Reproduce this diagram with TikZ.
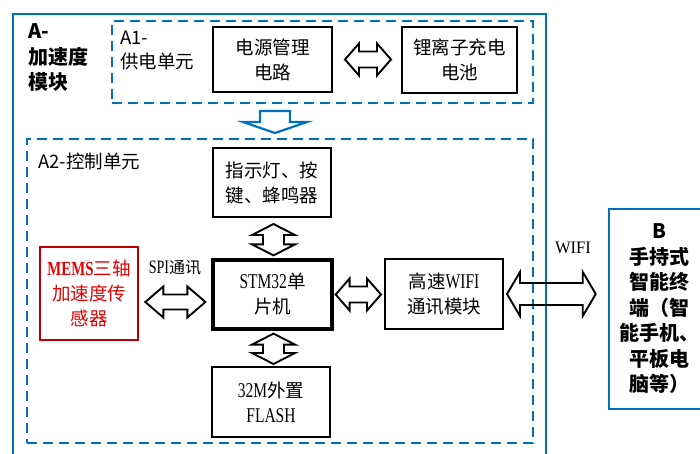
\documentclass[tikz,border=0pt]{standalone}
\usepackage{fontspec}
\setmainfont{Liberation Serif}[FakeStretch=0.74]
\newfontfamily\latw{Liberation Serif}[FakeStretch=0.95]
\newfontfamily\cjk{Noto Sans CJK SC}
\usetikzlibrary{calc}
\definecolor{ablue}{RGB}{0,112,192}
\definecolor{bred}{RGB}{192,0,0}
\definecolor{tred}{RGB}{230,0,0}
\newcommand\zh[1]{{\cjk\mdseries\fontsize{18.5}{25}\selectfont #1}}
\newcommand\zs[1]{{\cjk\fontsize{16}{18}\selectfont #1}}
\newcommand\hblock[5]{%
  \draw[blockarrow] let \p1=(#1), \p2=(#2) in
   (\x1,\y1) -- (\x1+#5,\y1+#4) -- (\x1+#5,\y1+#3) -- (\x2-#5,\y1+#3) -- (\x2-#5,\y1+#4) -- (\x2,\y1)
   -- (\x2-#5,\y1-#4) -- (\x2-#5,\y1-#3) -- (\x1+#5,\y1-#3) -- (\x1+#5,\y1-#4) -- cycle;}
\newcommand\vblock[5]{%
  \draw[blockarrow] let \p1=(#1), \p2=(#2) in
   (\x1,\y1) -- (\x1+#4,\y1-#5) -- (\x1+#3,\y1-#5) -- (\x1+#3,\y2+#5) -- (\x1+#4,\y2+#5) -- (\x1,\y2)
   -- (\x1-#4,\y2+#5) -- (\x1-#3,\y2+#5) -- (\x1-#3,\y1-#5) -- (\x1-#4,\y1-#5) -- cycle;}
\tikzset{
  blockarrow/.style={draw=black, line width=1.9pt, line join=miter},
  box/.style={draw=black, line width=2pt, rectangle, inner sep=0pt, align=center,
    font=\fontsize{21}{25}\selectfont},
  thickbox/.style={box, line width=3.2pt},
  redbox/.style={box, draw=bred, line width=2.6pt, text=tred, font=\bfseries\fontsize{20}{25}\selectfont},
  solidblue/.style={draw=ablue, line width=2.5pt},
  dashblue/.style={draw=ablue, line width=2.8pt, dash pattern=on 10pt off 6pt},
  sanslabel/.style={inner sep=0pt, align=left, font=\cjk\fontsize{18.5}{24}\selectfont},
  boldlabel/.style={inner sep=0pt, align=left, font=\cjk\bfseries\fontsize{20}{25.5}\selectfont},
  smalllabel/.style={inner sep=0pt, font=\fontsize{19}{20}\selectfont},
  wifilabel/.style={inner sep=0pt, font=\latw\fontsize{17.5}{20}\selectfont}
}
\begin{document}
\begin{tikzpicture}[x=1pt,y=-1pt]
\useasboundingbox (0,0) rectangle (700,453);
\clip (0,0) rectangle (700,453);
\fill[white] (0,0) rectangle (700,453);
% outer A box
\draw[solidblue] (13,14) rectangle (546,480);
% A1 and A2 dashed units
\node[dashblue, rectangle, minimum width=421pt, minimum height=82pt, inner sep=0pt] (A1) at (322.5,62) {};
\node[dashblue, rectangle, minimum width=506pt, minimum height=304pt, inner sep=0pt] (A2) at (280,291) {};
% labels
\node[boldlabel, anchor=west] (lA) at (28,58) {A-\\加速度\\模块};
\node[sanslabel, anchor=west] (lA1) at (120,50) {A1-\\供电单元};
\node[sanslabel, anchor=west] (lA2) at (38,161) {A2-控制单元};
% boxes
\node[box, minimum width=119pt, minimum height=65pt] (pwr) at (272.5,59.5) {\zh{电源管理}\\\zh{电路}};
\node[box, minimum width=115pt, minimum height=66pt] (bat) at (459.5,60) {\zh{锂离子充电}\\\zh{电池}};
\node[box, minimum width=118pt, minimum height=69pt] (ind) at (272,182.5) {\zh{指示灯、按}\\\zh{键、蜂鸣器}};
\node[thickbox, minimum width=119pt, minimum height=69pt] (stm) at (272.5,294.5) {STM32\zh{单}\\\zh{片机}};
\node[box, minimum width=118pt, minimum height=70pt] (flash) at (271,402) {32M\zh{外置}\\FLASH};
\node[redbox, minimum width=98pt, minimum height=93pt] (mems) at (89,293.5) {MEMS\zh{三轴}\\\zh{加速度传}\\\zh{感器}};
\node[box, minimum width=118pt, minimum height=70pt] (wifi) at (444,294) {\zh{高速}WIFI\\\zh{通讯模块}};
\node[solidblue, rectangle, inner sep=0pt, minimum width=100pt, minimum height=200pt, align=center,
  font=\cjk\bfseries\fontsize{20}{25.5}\selectfont] (B) at (659,309) {B\\手持式\\智能终\\端（智\\能手机、\\平板电\\脑等）};
% connector labels
\node[smalllabel] (spi) at (175,268) {SPI\zs{通讯}};
\node[wifilabel] (wl) at (573,248) {WIFI};
% power-unit down arrow
\draw[draw=ablue, line width=2.2pt, fill=white, line join=miter]
  (260,111) -- (290,111) -- (290,122) -- (307,122) -- (275,133) -- (243,122) -- (260,122) -- cycle;
% block arrows
\hblock{[xshift=12pt]pwr.east}{[xshift=-10pt]bat.west}{8pt}{16pt}{14pt}
\vblock{[xshift=1.5pt,yshift=-6pt]ind.south}{[xshift=1pt,yshift=3pt]stm.north}{10.5pt}{21.5pt}{11pt}
\vblock{[xshift=1pt,yshift=-3pt]stm.south}{[xshift=3pt,yshift=2pt]flash.north}{10.5pt}{21.5pt}{11pt}
\hblock{[xshift=6pt,yshift=-8.5pt]mems.east}{[xshift=-6pt,yshift=-8pt]stm.west}{7.5pt}{15.5pt}{18pt}
\hblock{[xshift=2pt]stm.east}{[xshift=-3pt]wifi.west}{8pt}{16pt}{14pt}
\hblock{[xshift=3pt]wifi.east}{[xshift=-12pt]B.west}{11pt}{22pt}{13pt}
\end{tikzpicture}
\end{document}
